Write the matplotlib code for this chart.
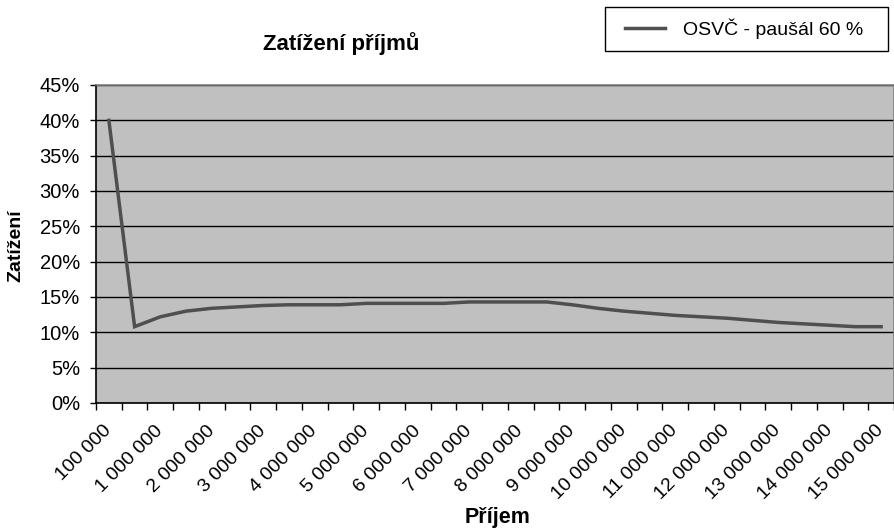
import numpy as np
import matplotlib.pyplot as plt
from matplotlib.patches import Rectangle
from matplotlib.ticker import FuncFormatter

plt.rcParams['font.family'] = ['Liberation Sans', 'DejaVu Sans']

# income categories (Kč) and tax burden (%)
prijem = [100000] + [500000 * k for k in range(1, 31)]
zatizeni = [40.0, 10.8, 12.2, 13.0, 13.4, 13.6, 13.8, 13.9, 13.9, 13.9,
            14.1, 14.1, 14.1, 14.1, 14.3, 14.3, 14.3, 14.3, 13.9, 13.4,
            13.0, 12.7, 12.4, 12.2, 12.0, 11.7, 11.4, 11.2, 11.0, 10.8,
            10.8]
serie = 'OSVČ - paušál 60 %'


def fmt(v):
    return '{:,}'.format(v).replace(',', ' ')


n = len(prijem)
x = np.arange(n)

fig = plt.figure(figsize=(8.95, 5.29), dpi=100)
ax = fig.add_axes([96 / 895, 1 - 403 / 529, 798 / 895, 318 / 529])
ax.set_facecolor('#c0c0c0')

ax.plot(x, np.array(zatizeni) / 100, color='#4f4f4f', lw=2.5,
        solid_joinstyle='miter', label=serie, zorder=3)

ax.set_xlim(-0.5, n - 0.5)
ax.set_ylim(0, 0.45)
ax.set_yticks(np.arange(0, 0.451, 0.05))
ax.yaxis.set_major_formatter(FuncFormatter(lambda v, p: '{:.0f}%'.format(v * 100)))
ax.yaxis.grid(True, color='black', lw=1)
ax.set_axisbelow(True)

# ticks between categories, labels on every other category
ax.set_xticks(np.arange(-0.5, n, 1.0))
ax.set_xticklabels([])
ax.set_xticks(x[::2], minor=True)
ax.set_xticklabels([fmt(v) for v in prijem[::2]], minor=True,
                   rotation=45, ha='right', va='center', rotation_mode='anchor',
                   fontsize=14)
ax.tick_params(axis='x', which='major', length=5, width=1, direction='out')
ax.tick_params(axis='x', which='minor', length=0, pad=18)
ax.tick_params(axis='y', length=4.5, width=1, labelsize=14.5, pad=7)

for s in ['top', 'right']:
    ax.spines[s].set_color('#808080')
    ax.spines[s].set_linewidth(1.2)
for s in ['left', 'bottom']:
    ax.spines[s].set_color('black')
    ax.spines[s].set_linewidth(1.2)

fig.text(341 / 895, 1 - 44 / 529, 'Zatížení příjmů', ha='center', va='center',
         fontsize=16, fontweight='bold')
fig.text(498 / 895, 1 - 517 / 529, 'Příjem', ha='center', va='center',
         fontsize=15.5, fontweight='bold')
fig.text(16 / 895, 1 - 246 / 529, 'Zatížení', ha='center', va='center',
         rotation=90, fontsize=14, fontweight='bold')

# legend box drawn separately so the side padding can be wider
fig.patches.append(Rectangle((605 / 895, 1 - 51 / 529), 283 / 895, 44 / 529,
                             transform=fig.transFigure, fill=False,
                             ec='black', lw=1))
fig.legend(loc='center left', bbox_to_anchor=(625 / 895, 1 - 29 / 529),
           fontsize=14, frameon=False, borderpad=0, borderaxespad=0,
           handlelength=2.05, handletextpad=0.93)

fig.savefig('out.png', dpi=100)
